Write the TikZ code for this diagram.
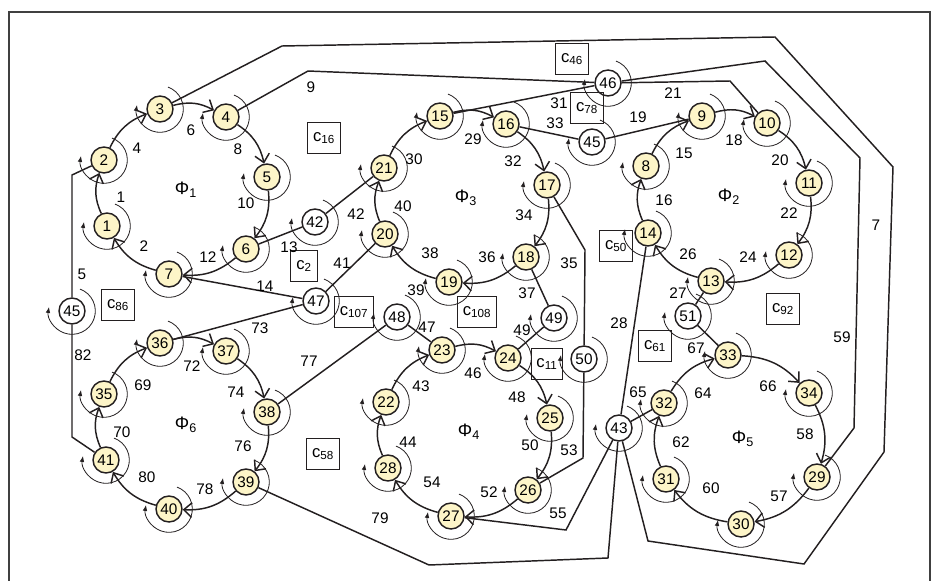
\documentclass[tikz,border=0pt]{standalone}
\usepackage{fontspec}
\setmainfont{Liberation Sans}
\usetikzlibrary{arrows.meta}
\definecolor{plfill}{RGB}{253,245,200}
\definecolor{ink}{RGB}{35,31,32}
\tikzset{
  pl/.style={circle,draw=ink,line width=1.1pt,fill=plfill,minimum size=19.5pt,inner sep=0pt,font=\fontsize{11.5}{13}\selectfont},
  tr/.style={pl,fill=white},
  cbox/.style={draw=ink,line width=0.7pt,inner xsep=4pt,minimum height=23pt,font=\fontsize{12.5}{14}\selectfont},
  cyc/.style={draw=ink,line width=1.1pt,-{Straight Barb[length=6pt,width=11pt]},bend left=22},
  con/.style={draw=ink,line width=1.1pt},
  loopline/.style={draw=ink,line width=0.6pt,-{Latex[length=4.5pt,width=3.5pt]}}
}
\begin{document}
\begin{tikzpicture}[x=0.75pt,y=-0.75pt,font=\fontsize{11.5}{13}\selectfont]
\useasboundingbox (0,0) rectangle (936,581);
\draw[line width=1.2pt,black!75] (9,600) -- (9,12) -- (930,12) -- (930,600);

% places and transitions
\foreach \n/\x/\y in {1/107/226,2/104/160,3/160/109,4/226/117,5/267/177,6/246/249,7/169/274,
  8/646/166,9/702/116,10/767/123,11/809/183,12/789/255,13/711/281,14/648/233,
  15/440/116,16/506/124,17/547/185,18/526/257,19/449/282,20/385/234,21/384/168,
  22/386/402,23/442/350,24/508/358,25/550/418,26/528/490,27/451/516,28/388/468,
  29/817/477,30/741/524,31/666/479,32/664/403,33/728/355,34/809/393,
  35/104/394,36/160/343,37/226/351,38/267/412,39/246/482,40/169/509,41/106/460}
  \node[pl] (p\n) at (\x,\y) {\n};
\foreach \n/\t/\x/\y in {42/42/315/222,43/43/619/428,45a/45/72/311,45b/45/592/142,46/46/608/83,
  47/47/316/301,48/48/397/317,49/49/554/318,50/50/584/359,51/51/688/316}
  \node[tr] (t\n) at (\x,\y) {\t};

% self loops
\foreach \n in {p1,p2,p3,p4,p5,p6,p7,p8,p9,p10,p11,p12,p13,p14,p15,p16,p17,p18,p19,p20,p21,
  p22,p23,p24,p25,p26,p27,p28,p29,p30,p31,p32,p33,p34,p35,p36,p37,p38,p39,p40,p41,
  t42,t43,t45a,t45b,t46,t47,t48,t49,t50,t51}
  \draw[loopline] ([shift={(70:17.5pt)}]\n.center) arc[start angle=70,end angle=-190,radius=17.5pt];

% subnets
\foreach \k/\x/\y in {1/186/190,2/729/197,3/466/198,4/469/432,5/743/439,6/186/425}
  \node[font=\fontsize{13.5}{15}\selectfont] (phi\k) at (\x,\y) {Φ\textsubscript{\k}};
\foreach \k/\x/\y in {46/572/59,78/587/108,16/324/138,2/304/266,86/118/305,107/354/312,
  108/477/312,11/547/364,50/616/246,61/655/346,92/783/309,58/323/454}
  \node[cbox] (c\k) at (\x,\y) {c\textsubscript{\k}};

% cycles
\foreach \a/\b in {1/2,2/3,3/4,4/5,5/6,6/7,7/1,14/8,8/9,9/10,10/11,11/12,12/13,13/14,
  20/21,21/15,15/16,16/17,17/18,18/19,19/20,28/22,22/23,23/24,24/25,25/26,26/27,27/28,
  31/32,32/33,33/34,34/29,29/30,30/31,41/35,35/36,36/37,37/38,38/39,39/40,40/41}
  \draw[cyc] (p\a) to (p\b);

% links
\foreach \a/\b in {p6/t42,t42/p21,p7/t47,p36/t47,t47/p20,p38/t48,t48/p23,p18/t49,t49/p24,
  p15/t46,p16/t45b,t45b/p9,p13/t51,t51/p33,t43/p32,t43/p14}
  \draw[con] (\a) -- (\b);
\coordinate (k5) at (72,175);
\coordinate (k82) at (72,437);
\coordinate (k9) at (308,71);
\coordinate (k21) at (730,81);
\coordinate (k35) at (585,250);
\coordinate (k53) at (583,458);
\coordinate (k55) at (566,530);
\draw[con] (p2) -- (k5) -- (t45a);
\draw[con] (t45a) -- (k82) -- (p41);
\draw[con] (p4) -- (k9) -- (t46);
\draw[con] (t46) -- (k21) -- (p10);
\draw[con] (p17) -- (k35) -- (t50);
\draw[con] (t50) -- (k53) -- (p26);
\draw[con] (t43) -- (k55) -- (p27);
\draw[con] (p39) -- (429,565) -- (608,558) -- (t43);
\draw[con] (p3) -- (282,46) -- (775,37) -- (893,167) -- (884,452) -- (804,564) -- (648,541) -- (t43);
\draw[con] (t46) -- (765,61) -- (860,158) -- (854,428) -- (p29);

% numbers
\foreach \t/\x/\y in {1/121/197,4/137/148,6/191/130,8/238/149,10/246/203,2/144/246,12/208/257,
  13/289/247,14/265/286,5/82/274,9/311/87,82/83/355,73/260/328,72/192/366,69/143/385,
  77/309/361,74/236/392,70/122/432,76/243/446,80/147/477,78/205/489,
  31/559/103,33/555/123,29/473/139,30/414/159,32/513/161,40/403/206,42/356/214,34/524/215,
  38/430/253,36/487/257,35/569/263,41/342/263,37/527/293,39/416/290,
  47/427/327,49/522/330,43/421/386,46/473/373,48/517/397,28/619/323,44/408/442,50/530/445,
  53/569/450,54/432/482,52/489/492,55/558/513,79/380/518,
  21/673/93,19/638/117,18/734/140,15/684/153,20/780/160,16/664/200,22/789/213,7/876/225,
  26/688/254,24/748/257,27/678/293,59/842/337,67/696/348,65/638/392,64/703/393,66/768/386,
  58/805/434,62/681/442,60/711/488,57/779/496}
  \node (e\t) at (\x,\y) {\t};
\end{tikzpicture}
\end{document}
